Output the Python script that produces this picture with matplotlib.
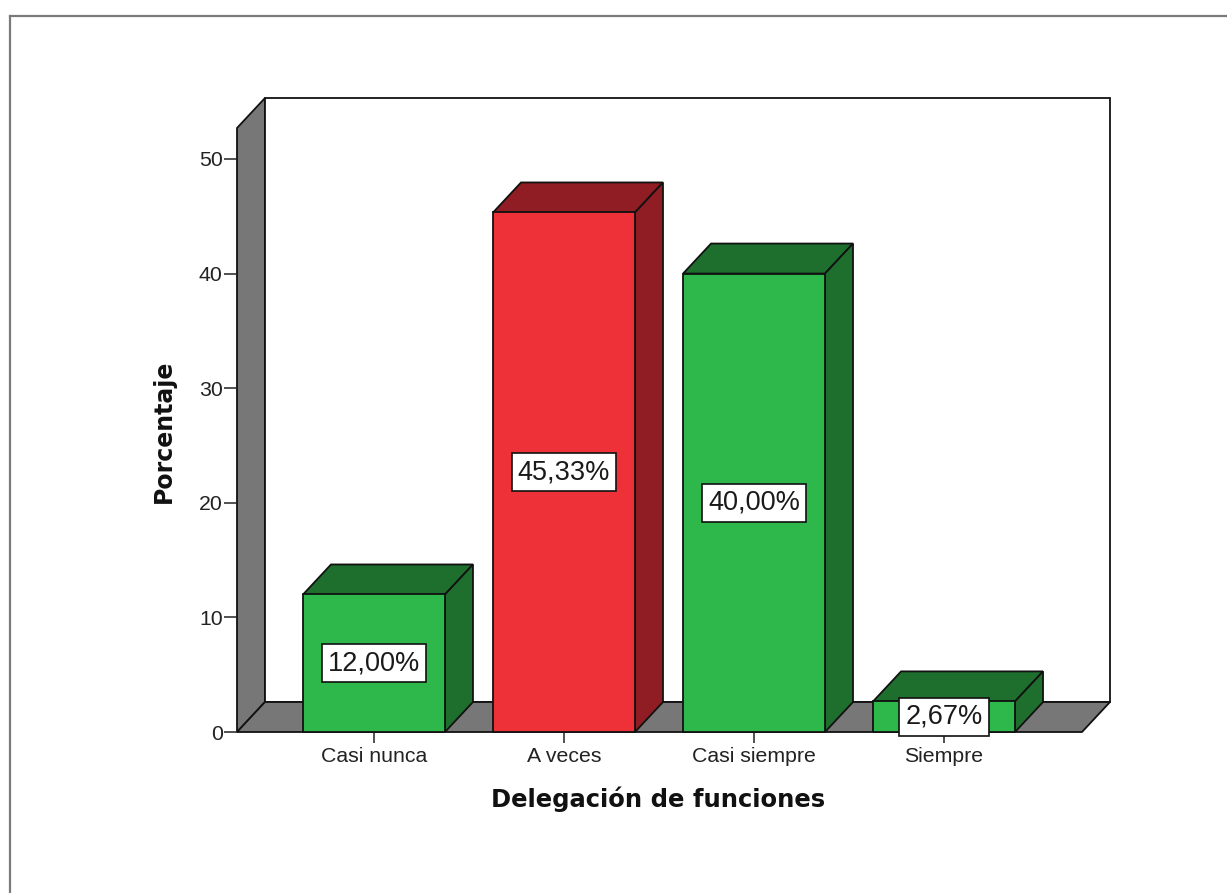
import numpy as np
import matplotlib
matplotlib.use("Agg")
import matplotlib.pyplot as plt
from matplotlib.patches import Rectangle, Polygon
from matplotlib.lines import Line2D

# ---- data ----
categories = ['Casi nunca', 'A veces', 'Casi siempre', 'Siempre']
values = [12.00, 45.33, 40.00, 2.67]
value_labels = ['12,00%', '45,33%', '40,00%', '2,67%']
yticks = [0, 10, 20, 30, 40, 50]
x_title = 'Delegación de funciones'
y_title = 'Porcentaje'

plt.rcParams['font.family'] = ['Liberation Sans', 'DejaVu Sans']

W, H = 1227, 893
fig = plt.figure(figsize=(W / 100, H / 100), dpi=100)
fig.patch.set_facecolor('white')

ax = fig.add_axes([237 / W, 1 - 732 / H, (1082 - 237) / W, (732 - 128) / H])
ax.patch.set_visible(False)
for s in ax.spines.values():
    s.set_visible(False)

xpos = np.arange(len(categories))
xlim = (-0.721, 3.726)
ylim = (0, 52.7)
ax.set_xlim(*xlim)
ax.set_ylim(*ylim)
bar_w = 0.747

# depth offsets (in data units) for the 3D effect
dx = 28 * (xlim[1] - xlim[0]) / ax.bbox.width
dy = 30 * (ylim[1] - ylim[0]) / ax.bbox.height

grey = '#777777'
ec = '#111111'
lw = 1.3

x0, x1 = xlim
ytop = ylim[1]
# left wall
ax.add_patch(Polygon([(x0, 0), (x0 + dx, dy), (x0 + dx, ytop + dy), (x0, ytop)],
                     closed=True, fc=grey, ec=ec, lw=lw, clip_on=False, zorder=1))
# back wall
ax.add_patch(Polygon([(x0 + dx, dy), (x1 + dx, dy), (x1 + dx, ytop + dy), (x0 + dx, ytop + dy)],
                     closed=True, fc='white', ec=ec, lw=lw, clip_on=False, zorder=1))
# floor
ax.add_patch(Polygon([(x0, 0), (x1, 0), (x1 + dx, dy), (x0 + dx, dy)],
                     closed=True, fc=grey, ec=ec, lw=lw, clip_on=False, zorder=1.5))

front_cols = ['#2eb84b', '#ee3039', '#2eb84b', '#2eb84b']
dark_cols = ['#1e6e2e', '#8f1d23', '#1e6e2e', '#1e6e2e']

for i, v in enumerate(values):
    xl = xpos[i] - bar_w / 2
    xr = xpos[i] + bar_w / 2
    z = 3
    ax.add_patch(Polygon([(xl, v), (xr, v), (xr + dx, v + dy), (xl + dx, v + dy)],
                         closed=True, fc=dark_cols[i], ec=ec, lw=lw, clip_on=False, zorder=z))
    ax.add_patch(Polygon([(xr, 0), (xr + dx, dy), (xr + dx, v + dy), (xr, v)],
                         closed=True, fc=dark_cols[i], ec=ec, lw=lw, clip_on=False, zorder=z))
    ax.add_patch(Rectangle((xl, 0), bar_w, v, fc=front_cols[i], ec=ec, lw=lw,
                           clip_on=False, zorder=z + 0.1))
    ax.text(xpos[i], v / 2, value_labels[i], ha='center', va='center',
            fontsize=19.5, color='#1a1a1a', zorder=10,
            bbox=dict(boxstyle='square,pad=0.22', fc='white', ec='#111111', lw=1.2))

ax.set_yticks(yticks)
ax.set_yticklabels([str(t) for t in yticks])
ax.set_xticks(xpos)
ax.set_xticklabels(categories)
ax.tick_params(axis='y', length=9.4, width=1.1, pad=1, labelsize=15.3,
               color='#222222', labelcolor='#222222')
ax.tick_params(axis='x', length=8, width=1.1, pad=3, labelsize=15.3,
               color='#222222', labelcolor='#222222')

fig.text(658 / W, 1 - 799 / H, x_title, ha='center', va='center',
         fontsize=17.5, fontweight='bold', family='DejaVu Sans', color='#111111')
fig.text(164 / W, 1 - 431 / H, y_title, ha='center', va='center', rotation=90,
         fontsize=17, fontweight='bold', family='DejaVu Sans', color='#111111')

# outer frame
fig.add_artist(Line2D([9.5 / W, 9.5 / W], [0, 1 - 15.5 / H], transform=fig.transFigure,
                      color='#7a7a7a', lw=1.6))
fig.add_artist(Line2D([9.5 / W, 1], [1 - 15.5 / H, 1 - 15.5 / H], transform=fig.transFigure,
                      color='#7a7a7a', lw=1.6))

fig.savefig('out.png', dpi=100, facecolor='white')
